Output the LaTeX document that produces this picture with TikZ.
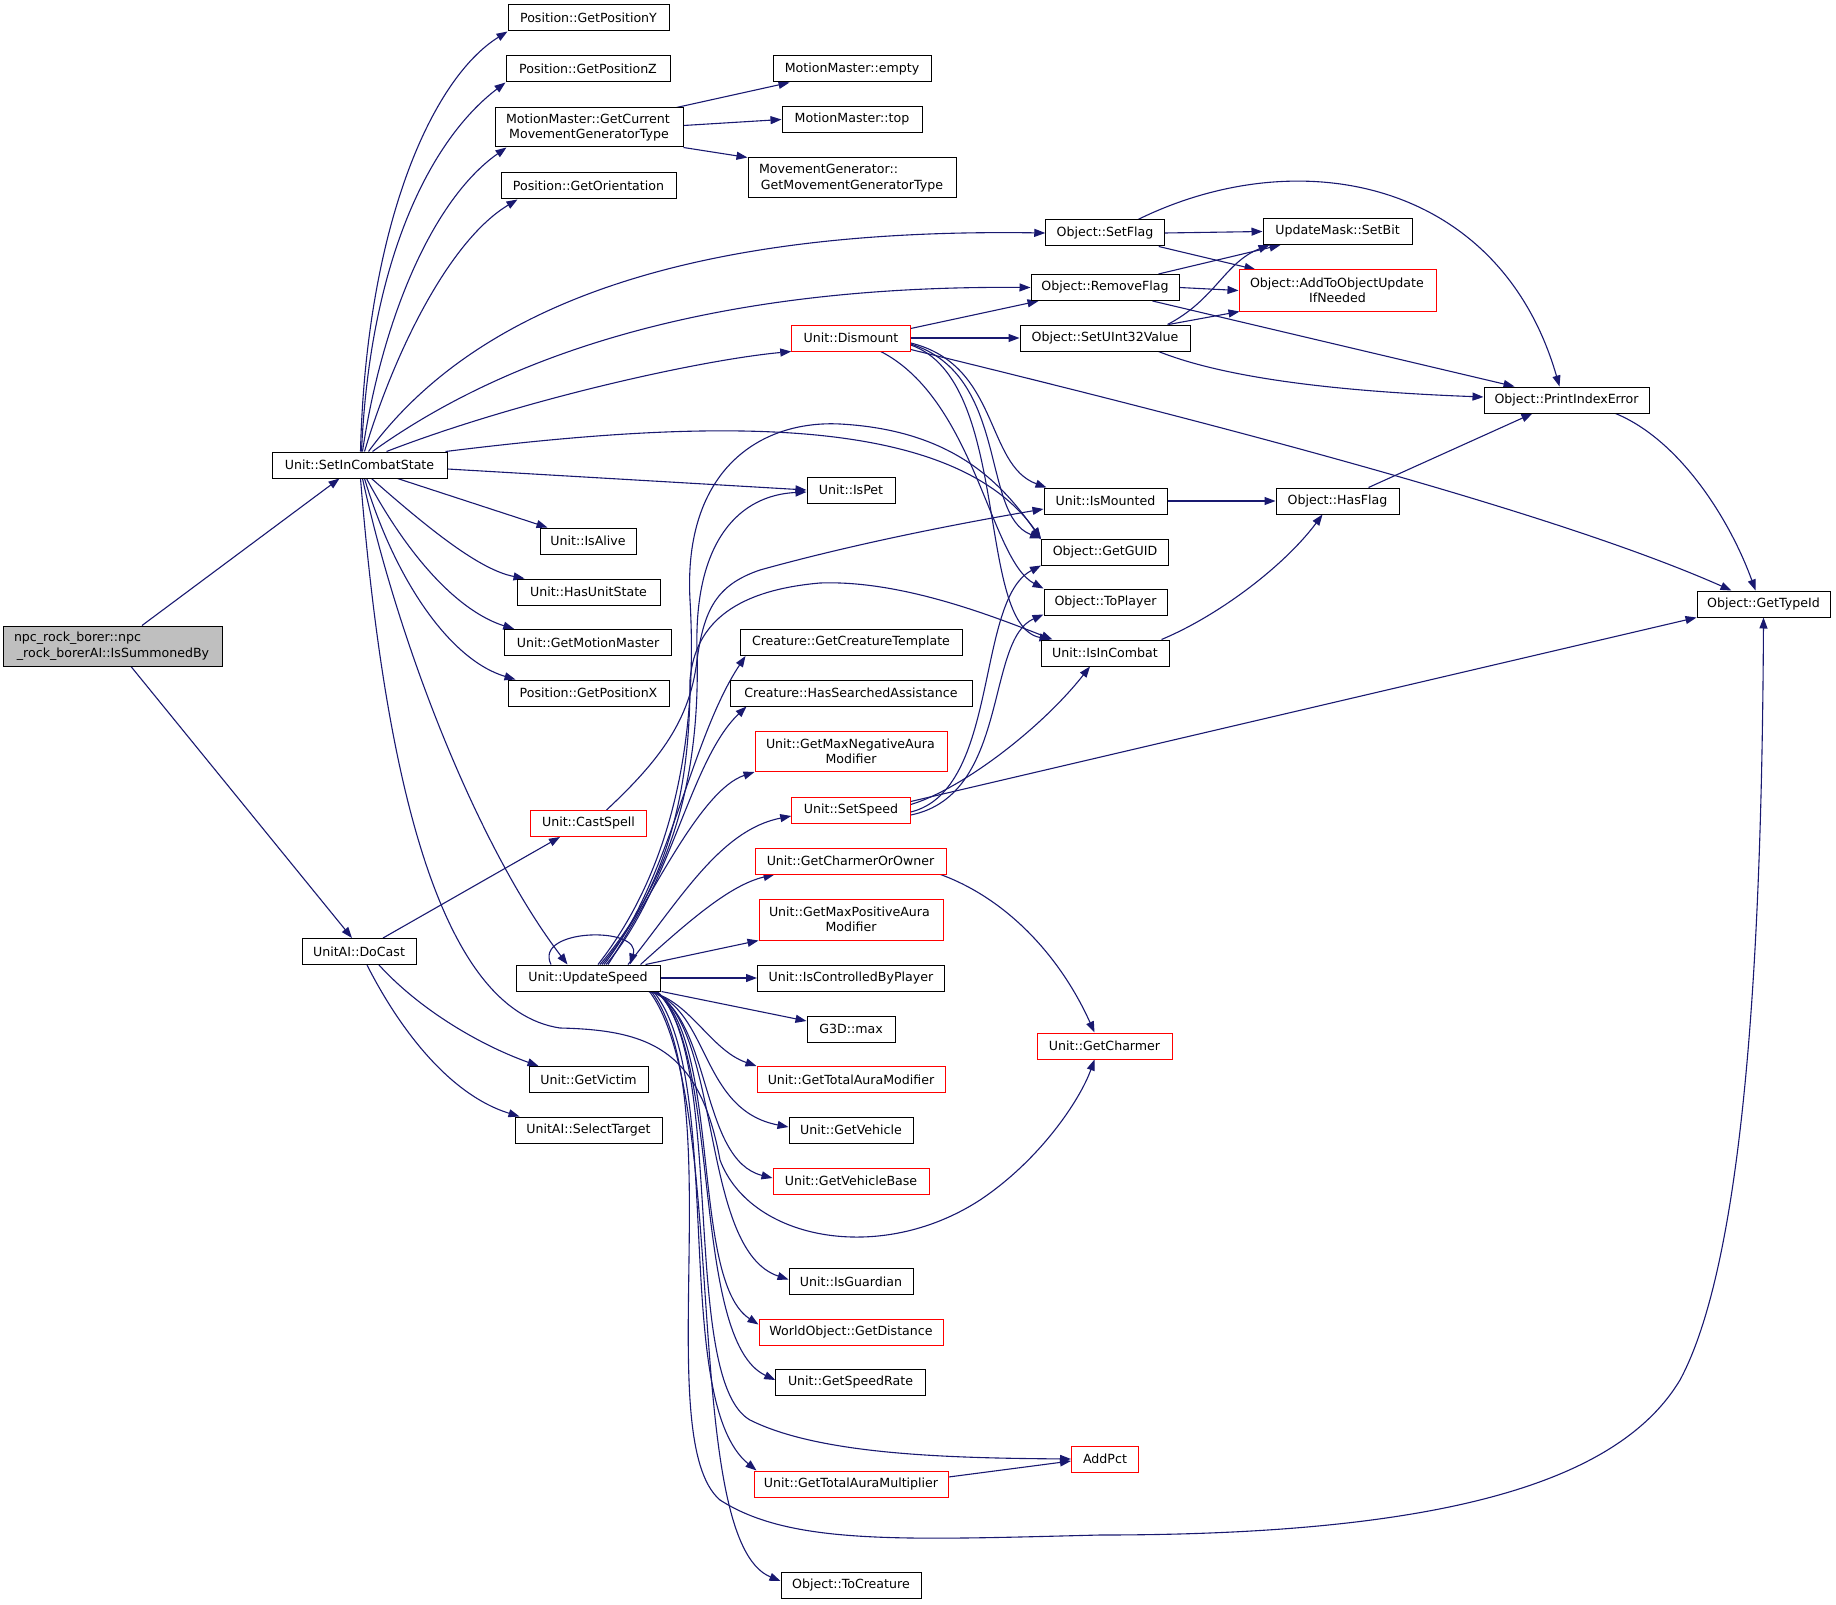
\documentclass[tikz,border=0pt]{standalone}
\usepackage{fontspec}
\setmainfont{DejaVu Sans}
\usetikzlibrary{arrows.meta,calc,backgrounds}
\definecolor{edgec}{HTML}{191970}
\definecolor{rootfill}{HTML}{BFBFBF}
\newcommand{\mytwo}[3]{\begin{minipage}{#1}\raggedright #2\par\centering #3\par\end{minipage}}
\tikzset{
 nbox/.style={draw=black, fill=white, line width=1pt, inner sep=0pt, minimum height=26pt, align=center, font=\fontsize{12.6}{15.5}\selectfont},
 rbox/.style={nbox, draw=red},
 tall/.style={minimum height=40pt},
 e/.style={draw=edgec, line width=1.1pt, -{Triangle[length=11pt,width=8pt]}},
}
\begin{document}
\begin{tikzpicture}[x=1pt,y=-1pt]
\useasboundingbox (0,0) rectangle (1836,1605);
% nodes
\node[nbox, fill=rootfill, tall, minimum width=219pt] (A) at (113,646) {\mytwo{198pt}{npc\_rock\_borer::npc}{\_rock\_borerAI::IsSummonedBy}};
\node[nbox, minimum width=175pt] (B) at (359.5,465) {Unit::SetInCombatState};
\node[nbox, minimum width=114pt] (C) at (359,951.5) {UnitAI::DoCast};
\node[nbox, minimum width=161pt] (D) at (588.5,18) {Position::GetPositionY};
\node[nbox, minimum width=164pt] (E) at (588,69) {Position::GetPositionZ};
\node[nbox, tall, minimum height=39pt, minimum width=188pt] (F) at (589,127.5) {\mytwo{166pt}{MotionMaster::GetCurrent}{MovementGeneratorType}};
\node[nbox, minimum width=175pt] (G) at (588.5,186) {Position::GetOrientation};
\node[nbox, minimum width=158pt] (H) at (852,69) {MotionMaster::empty};
\node[nbox, minimum width=140pt] (I) at (852,119.5) {MotionMaster::top};
\node[nbox, tall, minimum width=208pt] (J) at (852,178) {\mytwo{186pt}{MovementGenerator::}{GetMovementGeneratorType}};
\node[nbox, minimum width=118.5pt] (K) at (1105,233) {Object::SetFlag};
\node[nbox, minimum width=149pt] (L) at (1337.5,231.5) {UpdateMask::SetBit};
\node[nbox, minimum width=148pt] (M) at (1105,287.5) {Object::RemoveFlag};
\node[rbox, tall, minimum height=41pt, minimum width=197pt] (N) at (1337.5,290.5) {\mytwo{175pt}{Object::AddToObjectUpdate}{IfNeeded}};
\node[nbox, minimum width=170pt] (O) at (1105,338) {Object::SetUInt32Value};
\node[rbox, minimum width=118.5pt] (P) at (851,338) {Unit::Dismount};
\node[nbox, minimum width=165pt] (Q) at (1566.5,400) {Object::PrintIndexError};
\node[nbox, minimum width=88pt] (R) at (851,490) {Unit::IsPet};
\node[nbox, minimum width=123pt] (S) at (1105.5,501) {Unit::IsMounted};
\node[nbox, minimum width=123pt] (T) at (1337.5,501) {Object::HasFlag};
\node[nbox, minimum width=96pt] (U) at (588,541) {Unit::IsAlive};
\node[nbox, minimum width=127pt] (V) at (1105,552) {Object::GetGUID};
\node[nbox, minimum width=143pt] (W) at (588.5,592) {Unit::HasUnitState};
\node[nbox, minimum width=123pt] (X) at (1105.5,602) {Object::ToPlayer};
\node[nbox, minimum width=133pt] (Y) at (1763.5,604) {Object::GetTypeId};
\node[nbox, minimum width=166.5pt] (Z) at (588,642.5) {Unit::GetMotionMaster};
\node[nbox, minimum width=128pt] (AA) at (1105,653) {Unit::IsInCombat};
\node[nbox, minimum width=222pt] (AB) at (851,642.5) {Creature::GetCreatureTemplate};
\node[nbox, minimum width=161pt] (AC) at (588.5,693) {Position::GetPositionX};
\node[nbox, minimum width=242pt] (AD) at (851,693) {Creature::HasSearchedAssistance};
\node[rbox, tall, minimum width=192pt] (AE) at (851,751.5) {\mytwo{170pt}{Unit::GetMaxNegativeAura}{Modifier}};
\node[rbox, minimum width=118.5pt] (AF) at (851,810) {Unit::SetSpeed};
\node[rbox, minimum width=116pt] (AG) at (588.5,823.5) {Unit::CastSpell};
\node[rbox, minimum width=191pt] (AH) at (850.5,861) {Unit::GetCharmerOrOwner};
\node[rbox, tall, minimum height=41pt, minimum width=184pt] (AI) at (851,919.5) {\mytwo{164pt}{Unit::GetMaxPositiveAura}{Modifier}};
\node[nbox, minimum width=144pt] (AJ) at (588,978) {Unit::UpdateSpeed};
\node[nbox, minimum width=187pt] (AK) at (851,978) {Unit::IsControlledByPlayer};
\node[nbox, minimum width=88pt] (AL) at (851,1029) {G3D::max};
\node[rbox, minimum width=135pt] (AM) at (1104.5,1046) {Unit::GetCharmer};
\node[rbox, minimum width=188pt] (AN) at (851,1079.5) {Unit::GetTotalAuraModifier};
\node[nbox, minimum width=119pt] (AO) at (588.5,1079.5) {Unit::GetVictim};
\node[nbox, minimum width=147pt] (AP) at (588.5,1130) {UnitAI::SelectTarget};
\node[nbox, minimum width=124pt] (AQ) at (851,1130) {Unit::GetVehicle};
\node[rbox, minimum width=156pt] (AR) at (851,1181) {Unit::GetVehicleBase};
\node[nbox, minimum width=124pt] (AS) at (851,1281.5) {Unit::IsGuardian};
\node[rbox, minimum width=184pt] (AT) at (851,1332) {WorldObject::GetDistance};
\node[nbox, minimum width=149.5pt] (AU) at (850.5,1382) {Unit::GetSpeedRate};
\node[rbox, minimum width=67pt] (AV) at (1105,1459) {AddPct};
\node[rbox, minimum width=194pt] (AW) at (851,1484) {Unit::GetTotalAuraMultiplier};
\node[nbox, minimum width=140pt] (AX) at (851,1585) {Object::ToCreature};
% edges
\begin{scope}[on background layer]
\draw[e] ($(A.north)+(29,0)$) -- ($(B.south)+(-20,0)$);
\draw[e] ($(A.south)+(18,0)$) -- ($(C.north)+(-7,0)$);
% SetInCombatState
\draw[e] ($(B.north)+(1,0)$) .. controls (366,230) and (430,80) .. (D.south west);
\draw[e] ($(B.north)+(2,0)$) .. controls (370,260) and (430,140) .. (E.south west);
\draw[e] ($(B.north)+(3,0)$) .. controls (382,320) and (432,200) .. ($(F.south west)+(12,0)$);
\draw[e] ($(B.north)+(5,0)$) .. controls (395,350) and (450,240) .. ($(G.south west)+(17,0)$);
\draw[e] ($(B.north)+(9,0)$) .. controls (480,300) and (700,228) .. (K.west);
\draw[e] ($(B.north)+(13,0)$) .. controls (500,360) and (700,285) .. (M.west);
\draw[e] ($(B.north)+(27,0)$) .. controls (520,400) and (700,360) .. (P.south west);
\draw[e] ($(B.north east)+(-2,0)$) .. controls (700,420) and (950,410) .. (V.north west);
\draw[e] ($(B.east)+(0,4)$) -- (R.west);
\draw[e] ($(B.south)+(38,0)$) -- ($(U.north west)+(8,0)$);
\draw[e] ($(B.south)+(12,0)$) .. controls (430,530) and (480,570) .. ($(W.north west)+(8,0)$);
\draw[e] ($(B.south)+(7,0)$) .. controls (410,560) and (460,612) .. ($(Z.north west)+(10,0)$);
\draw[e] ($(B.south)+(5,0)$) .. controls (395,580) and (450,660) .. ($(AC.north west)+(8,0)$);
\draw[e] ($(B.south)+(3,0)$) .. controls (400,650) and (480,850) .. ($(AJ.north west)+(52,0)$);
\draw[e] ($(B.south)+(1,0)$) .. controls (385,780) and (440,1010) .. (560,1028) .. controls (650,1030) and (700,1050) .. (720,1160) .. controls (750,1240) and (880,1265) .. (980,1200) .. controls (1040,1160) and (1080,1100) .. ($(AM.south)+(-10,0)$);
% MotionMaster
\draw[e] ($(F.north east)+(-7,0)$) -- ($(H.south west)+(17,0)$);
\draw[e] ($(F.east)+(0,-2)$) -- (I.west);
\draw[e] (F.south east) -- (J.north west);
% flags
\draw[e] (K.east) -- (L.west);
\draw[e] ($(K.south east)+(-6,0)$) -- ($(N.north west)+(17,0)$);
\draw[e] ($(K.north)+(33,0)$) .. controls (1300,140) and (1500,180) .. ($(Q.north)+(-7,0)$);
\draw[e] ($(M.north east)+(-21,0)$) -- ($(L.south west)+(18,0)$);
\draw[e] (M.east) -- (N.west);
\draw[e] ($(M.south east)+(-27,0)$) -- ($(Q.north west)+(31,0)$);
\draw[e] ($(O.north east)+(-23,0)$) .. controls (1215,300) and (1225,262) .. ($(L.south west)+(7,0)$);
\draw[e] ($(O.north east)+(-22,0)$) -- ($(N.south west)+(1,0)$);
\draw[e] ($(O.south east)+(-32,0)$) .. controls (1230,380) and (1350,392) .. ($(Q.west)+(0,-3)$);
% Dismount
\draw[e] ($(P.north east)+(0,4)$) -- ($(M.south west)+(8,0)$);
\draw[e] (P.east) -- (O.west);
\draw[e] ($(P.east)+(0,5)$) .. controls (1000,365) and (985,465) .. ($(S.north west)+(3,0)$);
\draw[e] ($(P.east)+(0,6)$) .. controls (1010,375) and (980,515) .. (V.north west);
\draw[e] ($(P.east)+(0,7)$) .. controls (1012,380) and (975,625) .. ($(AA.north west)+(10,0)$);
\draw[e] ($(P.south east)+(-30,0)$) .. controls (975,400) and (990,560) .. (X.north west);
\draw[e] ($(P.south east)+(0,-2)$) .. controls (1200,420) and (1550,510) .. ($(Y.north west)+(35,0)$);
% misc
\draw[e] ($(Q.south east)+(-34,0)$) .. controls (1680,440) and (1730,520) .. ($(Y.north)+(-8,0)$);
\draw[e] (S.east) -- (T.west);
\draw[e] ($(T.north)+(31,0)$) -- ($(Q.south)+(-34,0)$);
\draw[e] ($(AA.north east)+(-8,0)$) .. controls (1220,615) and (1285,565) .. ($(T.south)+(-15,0)$);
% SetSpeed
\draw[e] ($(AF.east)+(0,2)$) .. controls (1000,790) and (975,600) .. (V.south west);
\draw[e] ($(AF.east)+(0,5)$) .. controls (1010,795) and (985,640) .. ($(X.south west)+(0,-1)$);
\draw[e] ($(AF.north east)+(0,8)$) .. controls (960,790) and (1040,730) .. ($(AA.south)+(-15,0)$);
\draw[e] ($(AF.north east)+(0,5)$) -- (Y.south west);
% charmer
\draw[e] ($(AH.south east)+(-6,0)$) .. controls (1010,900) and (1062,960) .. ($(AM.north)+(-10,0)$);
% CastSpell
\draw[e] ($(AG.north)+(18,0)$) .. controls (660,760) and (690,720) .. (697,660) .. controls (704,610) and (716,585) .. (760,570) .. controls (850,545) and (950,525) .. ($(S.west)+(0,8)$);
% DoCast
\draw[e] ($(C.north)+(24,0)$) -- ($(AG.south west)+(30,0)$);
\draw[e] ($(C.south)+(20,0)$) .. controls (420,1010) and (480,1045) .. ($(AO.north west)+(10,0)$);
\draw[e] ($(C.south)+(8,0)$) .. controls (400,1030) and (450,1095) .. ($(AP.north west)+(5,0)$);
% multiplier
\draw[e] ($(AW.east)+(0,-7)$) -- ($(AV.west)+(0,2)$);
% UpdateSpeed
\draw[e] ($(AJ.north)+(-37,0)$) .. controls (533,928) and (642,926) .. ($(AJ.north)+(42,0)$);
\draw[e] ($(AJ.north)+(12,0)$) .. controls (680,870) and (700,760) .. (697,650) .. controls (694,540) and (740,495) .. ($(R.west)+(0,2)$);
\draw[e] ($(AJ.north)+(10,0)$) .. controls (680,860) and (697,720) .. (690,600) .. controls (683,470) and (760,420) .. (840,424) .. controls (950,430) and (1000,480) .. ($(V.north west)+(0,1)$);
\draw[e] ($(AJ.north)+(14,0)$) .. controls (680,870) and (690,760) .. (690,680) .. controls (695,620) and (740,590) .. (820,583) .. controls (900,580) and (990,615) .. ($(AA.north west)+(12,0)$);
\draw[e] ($(AJ.north)+(16,0)$) .. controls (670,880) and (690,740) .. ($(AB.south west)+(6,0)$);
\draw[e] ($(AJ.north)+(18,0)$) .. controls (670,890) and (690,760) .. ($(AD.south west)+(17,0)$);
\draw[e] ($(AJ.north)+(20,0)$) .. controls (650,900) and (700,790) .. (AE.south west);
\draw[e] ($(AJ.north)+(40,0)$) .. controls (680,900) and (720,830) .. ($(AF.west)+(0,6)$);
\draw[e] ($(AJ.north east)+(-20,0)$) .. controls (690,920) and (730,885) .. ($(AH.south west)+(20,0)$);
\draw[e] ($(AJ.north east)+(-15,0)$) -- (AI.south west);
\draw[e] (AJ.east) -- (AK.west);
\draw[e] ($(AJ.south east)+(1,0)$) -- ($(AL.west)+(0,-8)$);
\draw[e] ($(AJ.south east)+(-12,0)$) .. controls (690,1000) and (710,1050) .. (AN.north west);
\draw[e] ($(AJ.south east)+(-10,0)$) .. controls (710,1010) and (700,1110) .. ($(AQ.west)+(0,-3)$);
\draw[e] ($(AJ.south east)+(-8,0)$) .. controls (712,1020) and (700,1160) .. ($(AR.west)+(0,-3)$);
\draw[e] ($(AJ.south east)+(-6,0)$) .. controls (722,1030) and (700,1250) .. ($(AS.west)+(0,-2)$);
\draw[e] ($(AJ.south east)+(-5,0)$) .. controls (722,1040) and (690,1280) .. ($(AT.north west)+(0,6)$);
\draw[e] ($(AJ.south east)+(-4,0)$) .. controls (722,1050) and (690,1340) .. ($(AU.west)+(0,-2)$);
\draw[e] ($(AJ.south east)+(-3,0)$) .. controls (726,1060) and (680,1380) .. (750,1420) .. controls (820,1455) and (950,1458) .. (AV.west);
\draw[e] ($(AJ.south east)+(-7,0)$) .. controls (726,1080) and (670,1400) .. ($(AW.north west)+(3,0)$);
\draw[e] ($(AJ.south east)+(-9,0)$) .. controls (730,1100) and (650,1440) .. (720,1500) .. controls (790,1545) and (900,1540) .. (1100,1535) .. controls (1450,1535) and (1620,1480) .. (1680,1380) .. controls (1750,1250) and (1762,900) .. (Y.south);
\draw[e] ($(AJ.south east)+(-11,0)$) .. controls (730,1100) and (680,1540) .. ($(AX.west)+(0,-4)$);
\end{scope}
\end{tikzpicture}
\end{document}
